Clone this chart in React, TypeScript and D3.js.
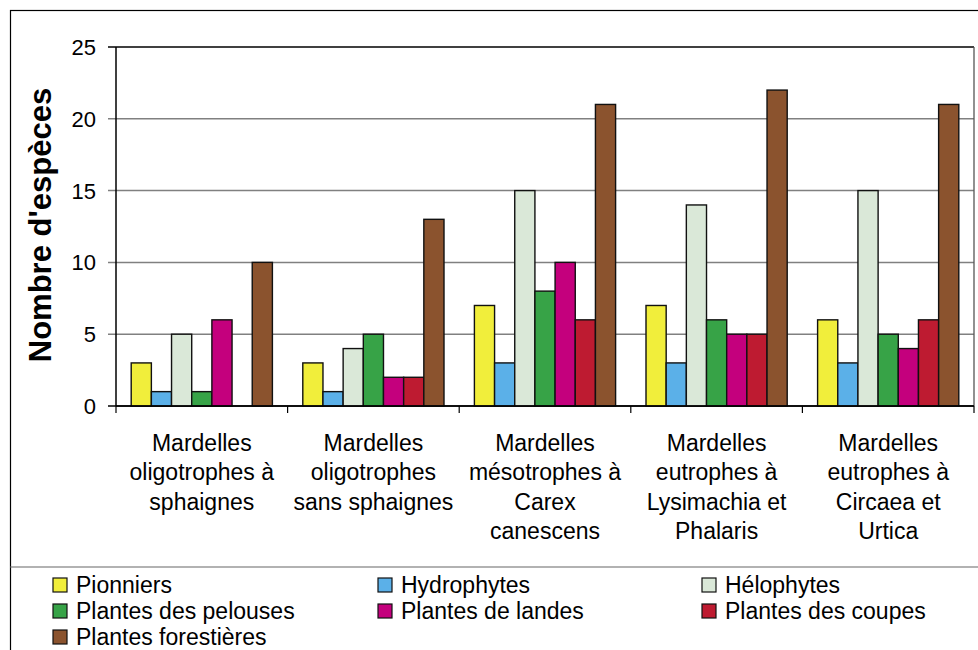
import React from "react";
import * as d3 from "d3";

const categories: string[][] = [
  ["Mardelles", "oligotrophes à", "sphaignes"],
  ["Mardelles", "oligotrophes", "sans sphaignes"],
  ["Mardelles", "mésotrophes à", "Carex", "canescens"],
  ["Mardelles", "eutrophes à", "Lysimachia et", "Phalaris"],
  ["Mardelles", "eutrophes à", "Circaea et", "Urtica"],
];
const seriesNames = [
  "Pionniers",
  "Hydrophytes",
  "Hélophytes",
  "Plantes des pelouses",
  "Plantes de landes",
  "Plantes des coupes",
  "Plantes forestières",
];
const seriesColors = ["#F1EE3B", "#5BB0E8", "#DAE8D8", "#37A347", "#C4007D", "#BE1B31", "#8B532E"];
const pionniers = [3, 3, 7, 7, 6];
const hydrophytes = [1, 1, 3, 3, 3];
const helophytes = [5, 4, 15, 14, 15];
const pelouses = [1, 5, 8, 6, 5];
const landes = [6, 2, 10, 5, 4];
const coupes = [0, 2, 6, 5, 6];
const forestieres = [10, 13, 21, 22, 21];
const yTicks = [0, 5, 10, 15, 20, 25];

const seriesValues = [pionniers, hydrophytes, helophytes, pelouses, landes, coupes, forestieres];

export default function App() {
  const W = 978, H = 650;
  const left = 116, right = 974, top = 47, bottom = 406;
  const font = "'Liberation Sans', Arial, sans-serif";
  const x0 = d3.scaleBand<number>().domain(d3.range(categories.length)).range([left, right]).padding(0);
  const gw = x0.bandwidth();
  const pad = 15.2;
  const x1 = d3.scaleBand<number>().domain(d3.range(seriesNames.length)).range([pad, gw - pad]).padding(0);
  const y = d3.scaleLinear().domain([0, 25]).range([bottom, top]);

  const legendCols = [53, 378, 702];
  const legendRowY = [585, 611, 637];

  return (
    <svg width={W} height={H} style={{ position: "absolute", left: 0, top: 0, background: "#fff" }} fontFamily={font}>
      <rect x={0} y={0} width={W} height={H} fill="#fff" />
      {/* outer frame */}
      <rect x={10.5} y={10.5} width={1000} height={700} fill="none" stroke="#000" strokeWidth={1.2} />
      <line x1={10} x2={W} y1={567} y2={567} stroke="#666" strokeWidth={1.2} />
      {/* gridlines */}
      {yTicks.map((t) => (
        <line key={"g" + t} x1={left - 8} x2={right} y1={y(t)} y2={y(t)}
          stroke={t === 25 || t === 0 ? "#000" : "#808080"} strokeWidth={t === 25 || t === 0 ? 1.3 : 1.5} />
      ))}
      <line x1={right} x2={right} y1={top} y2={bottom} stroke="#555" strokeWidth={1.3} />
      <line x1={left} x2={left} y1={top} y2={bottom} stroke="#000" strokeWidth={1.5} />
      {/* category ticks */}
      {d3.range(categories.length + 1).map((i) => {
        const xx = left + i * gw;
        return <line key={"ct" + i} x1={xx} x2={xx} y1={bottom} y2={bottom + 7} stroke="#000" strokeWidth={1.2} />;
      })}
      {/* bars */}
      {categories.map((_, ci) => (
        <g key={"grp" + ci} transform={`translate(${x0(ci)},0)`}>
          {seriesValues.map((vals, si) =>
            vals[ci] > 0 ? (
              <rect key={si} x={x1(si)} y={y(vals[ci])} width={x1.bandwidth()} height={y(0) - y(vals[ci])}
                fill={seriesColors[si]} stroke="#111" strokeWidth={1.4} />
            ) : null
          )}
        </g>
      ))}
      <line x1={left} x2={right} y1={bottom} y2={bottom} stroke="#000" strokeWidth={1.5} />
      {/* y tick labels */}
      {yTicks.map((t) => (
        <text key={"yt" + t} x={96} y={y(t)} dy="0.36em" textAnchor="end" fontSize={22} fill="#000">{t}</text>
      ))}
      {/* y title */}
      <text transform={`translate(51,225) rotate(-90)`} textAnchor="middle" fontSize={31} fontWeight="bold" fill="#000">
        Nombre d'espèces
      </text>
      {/* category labels */}
      {categories.map((lines, ci) => (
        <text key={"cl" + ci} x={(x0(ci) as number) + gw / 2} textAnchor="middle" fontSize={23} fill="#000">
          {lines.map((l, li) => (
            <tspan key={li} x={(x0(ci) as number) + gw / 2} y={451 + li * 29.3}>{l}</tspan>
          ))}
        </text>
      ))}
      {/* legend */}
      {seriesNames.map((name, i) => {
        const col = i % 3, row = Math.floor(i / 3);
        const lx = legendCols[col], ly = legendRowY[row];
        return (
          <g key={"lg" + i}>
            <rect x={lx} y={ly - 7} width={14} height={14} fill={seriesColors[i]} stroke="#111" strokeWidth={1.2} />
            <text x={lx + 23} y={ly} dy="0.36em" fontSize={23} fill="#000">{name}</text>
          </g>
        );
      })}
    </svg>
  );
}
